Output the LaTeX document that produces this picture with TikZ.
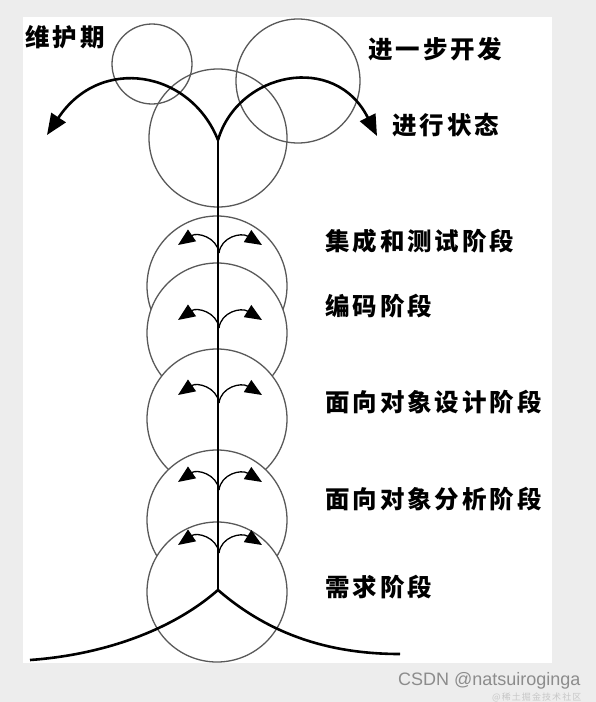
\documentclass[tikz,border=0pt]{standalone}
\usepackage{fontspec}
\usetikzlibrary{arrows.meta}
\newfontfamily\cjk[LetterSpace=12]{Noto Sans CJK SC}
\setsansfont{Liberation Sans}

\begin{document}
\begin{tikzpicture}
[x=1pt, y=-1pt, >={Triangle[length=21pt, width=17pt]},
 ring/.style={circle, draw=black!65, line width=1.3pt, inner sep=0, outer sep=0, minimum size=#1},
 stage/.style={ring=140pt, fill=white},
 arc/.style={line width=2.6pt},
 sprout/.style={line width=1.3pt, -{Triangle[length=17pt, width=14pt]}},
 phase/.style={anchor=west, inner sep=0, font=\cjk\bfseries\fontsize{24.5}{26}\selectfont}]
\fill [black!7] (0,0) rectangle (596,702);
\fill [white] (23,17) rectangle (552,663);
\useasboundingbox (0,0) rectangle (596,702);
\node (small) [ring=80pt] at (152, 64) {};
\node (large) [ring=124pt] at (298, 81) {};
\node (crown) [ring=138pt] at (218, 138) {};
\node (c1) [stage] at (217, 286) {};
\node (c2) [stage] at (217, 333) {};
\node (c3) [stage] at (217, 419) {};
\node (c4) [stage] at (217, 520) {};
\node (c5) [stage] at (217, 592) {};
\coordinate (top) at (218, 140);
\coordinate (base) at (218, 590);
\coordinate (tipl) at (47, 135);
\coordinate (tipr) at (377, 136);
\coordinate (endl) at (30, 660);
\coordinate (endr) at (400, 654);
\coordinate (f1) at (219, 253);
\coordinate (f2) at (219, 328);
\coordinate (f3) at (219, 403);
\coordinate (f4) at (219, 490);
\coordinate (f5) at (219, 553);
\draw [line width=2pt] (top) -- (base);
\draw [arc, ->] (top) .. controls (190, 70) and (100, 55) .. (tipl);
\draw [arc, ->] (top) .. controls (238, 72) and (335, 52) .. (tipr);
\draw [arc] (base) .. controls (170, 632) and (100, 655) .. (endl);
\draw [arc] (base) .. controls (270, 635) and (330, 654) .. (endr);
\draw [sprout] (f1) .. controls ([shift={(-2,-16)}]f1) and ([shift={(-22,-21)}]f1) .. ([shift={(-41,-8)}]f1);
\draw [sprout] (f1) .. controls ([shift={(2,-16)}]f1) and ([shift={(22,-21)}]f1) .. ([shift={(43,-8)}]f1);
\draw [sprout] (f2) .. controls ([shift={(-2,-16)}]f2) and ([shift={(-22,-21)}]f2) .. ([shift={(-41,-8)}]f2);
\draw [sprout] (f2) .. controls ([shift={(2,-16)}]f2) and ([shift={(22,-21)}]f2) .. ([shift={(43,-8)}]f2);
\draw [sprout] (f3) .. controls ([shift={(-2,-16)}]f3) and ([shift={(-22,-21)}]f3) .. ([shift={(-41,-8)}]f3);
\draw [sprout] (f3) .. controls ([shift={(2,-16)}]f3) and ([shift={(22,-21)}]f3) .. ([shift={(43,-8)}]f3);
\draw [sprout] (f4) .. controls ([shift={(-2,-16)}]f4) and ([shift={(-22,-21)}]f4) .. ([shift={(-41,-8)}]f4);
\draw [sprout] (f4) .. controls ([shift={(2,-16)}]f4) and ([shift={(22,-21)}]f4) .. ([shift={(43,-8)}]f4);
\draw [sprout] (f5) .. controls ([shift={(-2,-16)}]f5) and ([shift={(-22,-21)}]f5) .. ([shift={(-41,-8)}]f5);
\draw [sprout] (f5) .. controls ([shift={(2,-16)}]f5) and ([shift={(22,-21)}]f5) .. ([shift={(43,-8)}]f5);
\node (upkeep) [phase] at (25, 37) {维护期};
\node (further) [phase] at (368, 49) {进一步开发};
\node (running) [phase] at (392, 125) {进行状态};
\node (p1) [phase] at (325, 241) {集成和测试阶段};
\node (p2) [phase] at (325, 306) {编码阶段};
\node (p3) [phase] at (325, 402) {面向对象设计阶段};
\node (p4) [phase] at (325, 499) {面向对象分析阶段};
\node (p5) [phase] at (325, 587) {需求阶段};
\node (mark) [anchor=west, inner sep=0, text=black!45, font=\sffamily\fontsize{18}{20}\selectfont] at (398, 681) {CSDN @natsuiroginga};
\node (mark2) [anchor=west, inner sep=0, text=black!22, font=\cjk\fontsize{9}{10}\selectfont] at (492, 697) {@稀土掘金技术社区};
\end{tikzpicture}
\end{document}
